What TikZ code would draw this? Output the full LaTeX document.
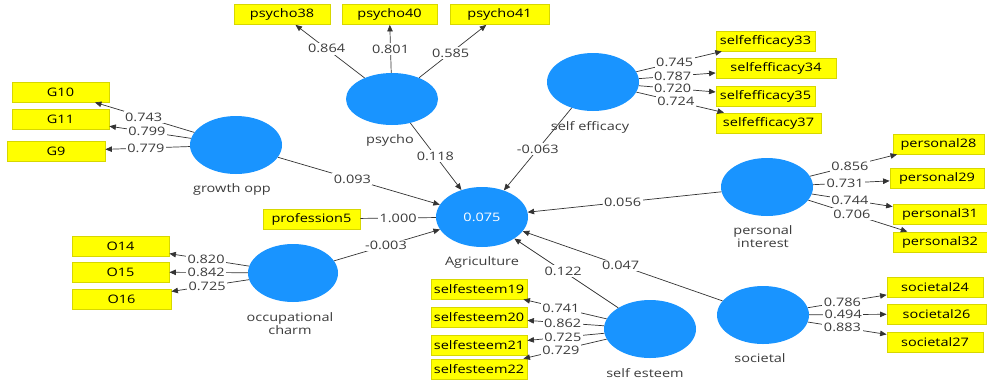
\documentclass[tikz,border=0pt]{standalone}
\usepackage{fontspec}
\newfontfamily\dfont{Open Sans}[FakeStretch=1.24]
\usetikzlibrary{arrows.meta,shapes.geometric}
\definecolor{lvblue}{RGB}{25,148,255}
\definecolor{ybox}{RGB}{255,255,0}
\definecolor{yedge}{RGB}{215,215,0}
\definecolor{lncol}{RGB}{51,51,51}
\definecolor{txcol}{RGB}{60,60,60}
\begin{document}
\begin{tikzpicture}[x=1pt,y=-1pt,
  every node/.style={font=\dfont\fontsize{11.7}{13}\selectfont},
  ind/.style={draw=yedge, fill=ybox, line width=0.8pt, minimum height=20pt, inner sep=0pt, text=black},
  latent/.style={ellipse, fill=lvblue, draw=none, inner sep=0pt, minimum width=92pt, minimum height=58pt},
  lvname/.style={text=txcol, align=center},
  lbl/.style={fill=white, inner sep=1.5pt, text=txcol},
  arr/.style={draw=lncol, line width=0.7pt, -{Triangle[length=6.5pt,width=5.5pt]}},
  plainln/.style={draw=lncol, line width=0.7pt}]
\useasboundingbox[fill=white] (0,0) rectangle (987,381);

% indicators
\node[ind, minimum width=96pt] (p38) at (282,14.5) {psycho38};
\node[ind, minimum width=95pt] (p40) at (389.5,14.5) {psycho40};
\node[ind, minimum width=99pt] (p41) at (499.5,14.5) {psycho41};
\node[ind, minimum width=97pt] (g10) at (60.5,92) {G10};
\node[ind, minimum width=97pt] (g11) at (60.5,119) {G11};
\node[ind, minimum width=98pt] (g9) at (56,151) {G9};
\node[ind, minimum width=99pt] (se33) at (765.5,41) {selfefficacy33};
\node[ind, minimum width=120pt] (se34) at (776,68.5) {selfefficacy34};
\node[ind, minimum width=99pt] (se35) at (765.5,96) {selfefficacy35};
\node[ind, minimum width=105pt] (se37) at (768.5,123) {selfefficacy37};
\node[ind, minimum width=91pt] (pe28) at (938.5,144) {personal28};
\node[ind, minimum width=94pt] (pe29) at (937,178.5) {personal29};
\node[ind, minimum width=94pt] (pe31) at (940,214) {personal31};
\node[ind, minimum width=94pt] (pe32) at (940,242) {personal32};
\node[ind, minimum width=96pt] (so24) at (935,287) {societal24};
\node[ind, minimum width=99pt] (so26) at (936.5,314) {societal26};
\node[ind, minimum width=96pt] (so27) at (935,342) {societal27};
\node[ind, minimum width=97pt] (pr5) at (311.5,219) {profession5};
\node[ind, minimum width=97pt] (o14) at (120.5,246) {O14};
\node[ind, minimum width=97pt] (o15) at (120.5,272) {O15};
\node[ind, minimum width=99pt] (o16) at (121.5,299) {O16};
\node[ind, minimum width=96pt] (es19) at (479,289) {selfesteem19};
\node[ind, minimum width=96pt] (es20) at (479,317) {selfesteem20};
\node[ind, minimum width=96pt] (es21) at (479,345) {selfesteem21};
\node[ind, minimum width=96pt] (es22) at (479,369) {selfesteem22};

% latent variables
\node[latent, minimum height=52pt] (psycho) at (392,99) {};
\node[latent] (growth) at (236,145) {};
\node[latent] (seff) at (593,82) {};
\node[latent] (pint) at (767,187) {};
\node[latent, minimum height=60pt, text=white] (agri) at (482,217) {0.075};
\node[latent, minimum width=90pt] (occ) at (293,273) {};
\node[latent] (sest) at (650,329) {};
\node[latent] (soc) at (763,315) {};

% latent names
\node[lvname] (psychoname) at (390,140) {psycho};
\node[lvname] (growthname) at (232,189) {growth opp};
\node[lvname] (seffname) at (590,127) {self efficacy};
\node[lvname] (pintname) at (763,237) {personal\\interest};
\node[lvname] (agriname) at (482,262) {Agriculture};
\node[lvname] (occname) at (290,324) {occupational\\charm};
\node[lvname] (sestname) at (645,373) {self esteem};
\node[lvname] (socname) at (760,358) {societal};

% outer loadings
\draw[arr] (psycho) -- node[lbl,pos=0.55]{0.864} (p38);
\draw[arr] (psycho) -- node[lbl,pos=0.5]{0.801} (p40);
\draw[arr] (psycho) -- node[lbl,pos=0.47]{0.585} (p41);
\draw[arr] (growth) -- node[lbl,pos=0.51]{0.743} (g10);
\draw[arr] (growth) -- node[lbl,pos=0.54]{0.799} (g11);
\draw[arr] (growth) -- node[lbl,pos=0.52]{0.779} (g9);
\draw[arr] (seff) -- node[lbl,pos=0.45]{0.745} (se33);
\draw[arr] (seff) -- node[lbl,pos=0.44]{0.787} (se34);
\draw[arr] (seff) -- node[lbl,pos=0.44]{0.720} (se35);
\draw[arr] (seff) -- node[lbl,pos=0.45]{0.724} (se37);
\draw[arr] (pint) -- node[lbl,pos=0.46]{0.856} (pe28);
\draw[arr] (pint) -- node[lbl,pos=0.42]{0.731} (pe29);
\draw[arr] (pint) -- node[lbl,pos=0.47]{0.744} (pe31);
\draw[arr] (pint) -- node[lbl,pos=0.44]{0.706} (pe32);
\draw[arr] (soc) -- node[lbl,pos=0.44]{0.786} (so24);
\draw[arr] (soc) -- node[lbl,pos=0.44]{0.494} (so26);
\draw[arr] (soc) -- node[lbl,pos=0.44]{0.883} (so27);
\draw[arr] (sest) -- node[lbl,pos=0.55]{0.741} (es19);
\draw[arr] (sest) -- node[lbl,pos=0.54]{0.862} (es20);
\draw[arr] (sest) -- node[lbl,pos=0.54]{0.725} (es21);
\draw[arr] (sest) -- node[lbl,pos=0.55]{0.729} (es22);
\draw[arr] (occ) -- node[lbl,pos=0.54]{0.820} (o14);
\draw[arr] (occ) -- node[lbl,pos=0.53]{0.842} (o15);
\draw[arr] (occ) -- node[lbl,pos=0.54]{0.725} (o16);
\draw[plainln] (pr5) -- node[lbl,pos=0.5]{1.000} (agri);

% inner model
\draw[arr] (growth) -- node[lbl,pos=0.46]{0.093} (agri);
\draw[arr] (psycho) -- node[lbl,pos=0.49]{0.118} (agri);
\draw[arr] (seff) -- node[lbl,pos=0.5]{-0.063} (agri);
\draw[arr] (pint) -- node[lbl,pos=0.51]{0.056} (agri);
\draw[arr] (occ) -- node[lbl,pos=0.49]{-0.003} (agri);
\draw[arr] (sest) -- node[lbl,pos=0.53]{0.122} (agri);
\draw[arr] (soc) -- node[lbl,pos=0.51]{0.047} (agri);
\end{tikzpicture}
\end{document}
